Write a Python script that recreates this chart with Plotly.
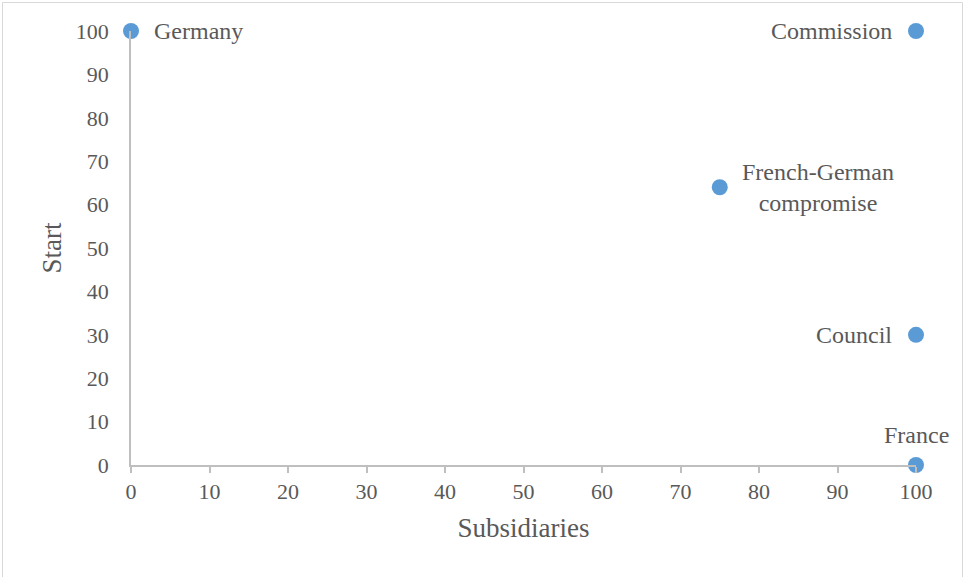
import plotly.graph_objects as go

# Positions of the actors on the two policy dimensions
actors = ["Germany", "Commission", "French-German<br>compromise", "Council", "France"]
subsidiaries = [0, 100, 75, 100, 100]
start = [100, 100, 64, 30, 0]

# Where each label sits relative to its point: (xanchor, yanchor, xshift, yshift)
label_place = {
    "Germany": ("left", "middle", 21, 0),
    "Commission": ("right", "middle", -22, 0),
    "French-German<br>compromise": ("left", "middle", 20, 0),
    "Council": ("right", "middle", -22, 0),
    "France": ("center", "bottom", 0, 15),
}

x_ticks = list(range(0, 101, 10))
y_ticks = list(range(0, 101, 10))

FONT = "Liberation Serif"
TEXT = "#595959"
AXIS = "#BFBFBF"

fig = go.Figure(
    go.Scatter(
        x=subsidiaries,
        y=start,
        mode="markers",
        marker=dict(size=16, color="#5B9BD5"),
        hoverinfo="skip",
        cliponaxis=False,
    )
)

for name, xv, yv in zip(actors, subsidiaries, start):
    xa, ya, dx, dy = label_place[name]
    fig.add_annotation(
        x=xv, y=yv, text=name, showarrow=False,
        xanchor=xa, yanchor=ya, xshift=dx, yshift=dy, align="center",
        font=dict(family=FONT, size=24, color=TEXT),
    )

W, H = 963, 577
ml, mr, mt, mb = 131, 47, 31, 112
pw, ph = W - ml - mr, H - mt - mb

# Light frame around the whole chart area
fig.add_shape(
    type="rect", xref="paper", yref="paper",
    x0=(2.5 - ml) / pw, x1=(962.5 - ml) / pw,
    y0=(H - mb - 600) / ph, y1=(H - mb - 2.5) / ph,
    line=dict(color="#D9D9D9", width=1), layer="below",
)

fig.update_layout(
    width=W, height=H,
    margin=dict(l=ml, r=mr, t=mt, b=mb),
    paper_bgcolor="white", plot_bgcolor="white",
    showlegend=False,
    font=dict(family=FONT, color=TEXT),
    xaxis=dict(
        range=[0, 100], tickvals=x_ticks, ticktext=[str(v) for v in x_ticks],
        showgrid=False, zeroline=False,
        showline=True, linecolor=AXIS, linewidth=1.5,
        ticks="outside", ticklen=6, tickcolor=AXIS, tickwidth=1.5,
        tickfont=dict(family=FONT, size=22, color=TEXT),
        title=dict(text="Subsidiaries", font=dict(family=FONT, size=27, color=TEXT), standoff=15),
    ),
    yaxis=dict(
        range=[0, 100], tickvals=y_ticks, ticktext=[str(v) for v in y_ticks],
        showgrid=False, zeroline=False,
        showline=True, linecolor=AXIS, linewidth=1.5,
        ticks="", ticklabelstandoff=16,
        tickfont=dict(family=FONT, size=22, color=TEXT),
        title=dict(text="Start", font=dict(family=FONT, size=27, color=TEXT), standoff=6),
    ),
)

fig.write_html("out.html")
